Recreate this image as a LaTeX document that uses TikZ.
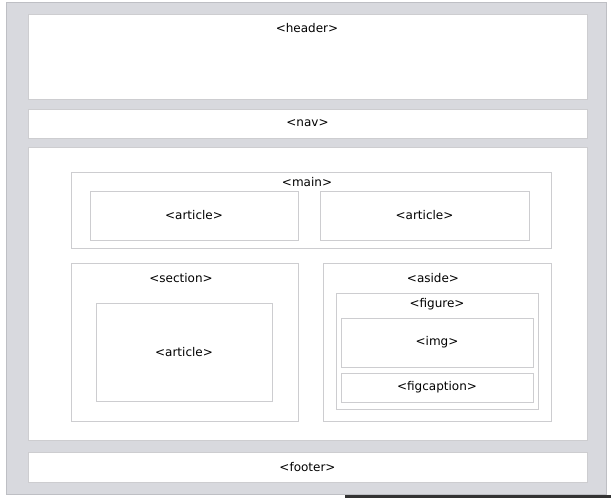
\documentclass[tikz,border=0pt]{standalone}
\usepackage{fontspec}
\setmainfont{DejaVu Sans}
\usepackage{tikz}
\usetikzlibrary{positioning}
\definecolor{pagegray}{RGB}{216,217,222}
\definecolor{pageedge}{RGB}{190,191,196}
\definecolor{boxedge}{RGB}{205,205,208}
\tikzset{
    region/.style={rectangle, draw=boxedge, fill=white, line width=0.8pt, inner sep=0pt, outer sep=0pt, font=\fontsize{12}{14}\selectfont},
    tag/.style={inner sep=0pt, font=\fontsize{12}{14}\selectfont},
}
\begin{document}
\begin{tikzpicture}[x=1pt, y=-1pt]
    \useasboundingbox (0,0) rectangle (611,498);
    % page background
    \node[region, draw=pageedge, fill=pagegray, minimum width=600pt, minimum height=492pt] (page) at (306,248) {};
    % top-level blocks
    \node[region, minimum width=559pt, minimum height=85pt] (header) at (307.5,56.5) {};
    \node[tag] (headertag) at (307,28) {<header>};
    \node[region, minimum width=559pt, minimum height=29pt] (nav) at (307.5,123.5) {<nav>};
    \node[region, minimum width=559pt, minimum height=293pt] (body) at (307.5,293.5) {};
    \node[region, minimum width=559pt, minimum height=30pt] (footer) at (307.5,467) {<footer>};
    % main with two articles
    \node[region, minimum width=480pt, minimum height=76pt] (main) at (311,210) {};
    \node[tag] (maintag) at (307,182) {<main>};
    \node[region, minimum width=208pt, minimum height=49pt] (art1) at (194,215.5) {<article>};
    \node[region, minimum width=209pt, minimum height=49pt] (art2) at (424.5,215.5) {<article>};
    % section
    \node[region, minimum width=227pt, minimum height=158pt] (section) at (184.5,342) {};
    \node[tag] (sectiontag) at (181,278) {<section>};
    \node[region, minimum width=176pt, minimum height=98pt] (art3) at (184,352) {<article>};
    % aside with figure
    \node[region, minimum width=228pt, minimum height=158pt] (aside) at (437,342) {};
    \node[tag] (asidetag) at (433,278) {<aside>};
    \node[region, minimum width=202pt, minimum height=116pt] (figure) at (437,351) {};
    \node[tag] (figuretag) at (437,304) {<figure>};
    \node[region, minimum width=192pt, minimum height=49pt] (img) at (437,342.5) {<img>};
    \node[region, minimum width=192pt, minimum height=29pt] (figcap) at (437,387.5) {<figcaption>};
    % dark strip at the bottom edge
    \fill[black!80] (345,495) rectangle (611,498);
\end{tikzpicture}
\end{document}
